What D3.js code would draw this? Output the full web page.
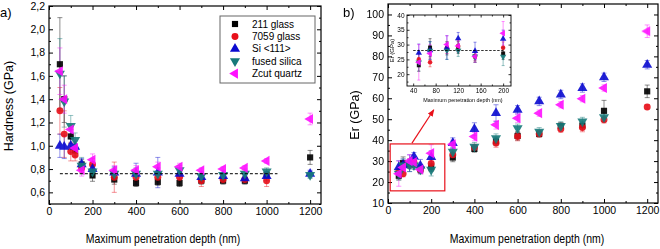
<!DOCTYPE html>
<html>
<head>
<meta charset="utf-8">
<script src="https://cdn.jsdelivr.net/npm/d3@7"></script>
<style>
  body { margin: 0; background: #fff; }
  text { font-family: "Liberation Sans", Arial, sans-serif; fill: #000; }
</style>
</head>
<body>
<svg id="chart" width="660" height="249"></svg>
<script>
// ---- data ----
const depth = [50, 70, 100, 120, 150, 200, 300, 400, 500, 600, 700, 800, 900, 1000, 1200];
const seriesNames = ['211 glass', '7059 glass', 'Si <111>', 'fused silica', 'Zcut quartz'];
const seriesColors = ['#000000', '#e8101a', '#0a0ad0', '#167a7a', '#ff10ff'];

// hardness (GPa)
const hard211    = [1.70, 1.40, 1.08, 0.96, 0.84, 0.745, 0.71, 0.68, 0.69, 0.68, 0.70, 0.70, 0.70, 0.75, 0.90];
const hard7059   = [1.30, 1.10, 0.95, 0.92, 0.81, 0.84, 0.73, 0.73, 0.73, 0.73, 0.70, 0.71, 0.71, 0.70, null];
const hardSi     = [1.00, 0.99, 1.00, 0.99, 0.84, 0.80, 0.77, 0.76, 0.77, 0.76, 0.73, 0.74, 0.72, 0.74, 0.76];
const hardSilica = [1.62, 1.38, 1.17, 1.05, 0.83, 0.78, 0.76, 0.76, 0.76, 0.79, 0.74, 0.75, 0.76, 0.78, 0.75];
const hardQuartz = [1.64, 1.40, 1.14, 0.98, 0.79, 0.88, 0.79, 0.79, 0.82, 0.82, 0.79, 0.80, 0.81, 0.87, 1.23];

const hardErr211    = [0.40, 0.20, 0.06, 0.05, 0.04, 0.05, 0.04, 0.03, 0.03, 0.03, 0.03, 0.03, 0.03, 0.03, 0.06];
const hardErr7059   = [0.20, 0.20, 0.08, 0.05, 0.04, 0.05, 0.13, 0.04, 0.04, 0.04, 0.05, 0.03, 0.03, 0.05, null];
const hardErrSi     = [0.10, 0.10, 0.06, 0.05, 0.05, 0.04, 0.05, 0.09, 0.13, 0.04, 0.03, 0.03, 0.04, 0.04, 0.03];
const hardErrSilica = [0.30, 0.22, 0.09, 0.06, 0.07, 0.05, 0.05, 0.05, 0.05, 0.04, 0.04, 0.04, 0.04, 0.03, 0.03];
const hardErrQuartz = [0.20, 0.12, 0.04, 0.04, 0.05, 0.05, 0.04, 0.04, 0.04, 0.03, 0.02, 0.02, 0.02, 0.02, 0.05];

// reduced modulus Er (GPa)
const er211    = [23, 29, 28.5, 29, 26, 27, 31.7, 35.8, 39.4, 42, 43, 46.8, 47, 54, 63.3];
const er7059   = [25, 24, 29, 29.5, 26, 28.9, 33, 36.5, 38.6, 41.7, 43, 45.3, 46, 49.7, 55.8];
const erSi     = [27.2, 28, 29, 32.1, 27.8, 31.9, 38.6, 45.3, 52.9, 54.5, 58.5, 61.8, 64.9, 70, 76];
const erSilica = [24, 28, 28, 28, 26, 25.9, 34.5, 36.9, 41, 45.7, 44, 46.8, 48.9, 51, null];
const erQuartz = [24, 27, 30, 29.5, 26, 33.8, 38, 41.7, 47.3, 50.5, 52.9, 56.9, 59.8, 64.9, 92];

const erErr211    = [2, 3, 2, 2, 2, 2, 2, 1.5, 2, 2, 1.5, 1.5, 2, 5, 3];
const erErr7059   = [2, 1.5, 2, 2, 1.5, 2, 2, 1.5, 2, 2, 1.5, 1.5, 2, 1.5, 1];
const erErrSi     = [3, 3, 4, 2, 3, 3, 2.5, 3, 4, 2, 2, 2, 2, 2, 2];
const erErrSilica = [3, 3, 3, 2, 2, 3, 2, 2, 2, 2, 2, 2, 2, 2, null];
const erErrQuartz = [6, 3, 3, 2, 2, 4, 2, 2, 2, 2, 1.5, 1.5, 1.5, 1.5, 3];

const hardSeries = [hard211, hard7059, hardSi, hardSilica, hardQuartz];
const hardErrors = [hardErr211, hardErr7059, hardErrSi, hardErrSilica, hardErrQuartz];
const erSeries = [er211, er7059, erSi, erSilica, erQuartz];
const erErrors = [erErr211, erErr7059, erErrSi, erErrSilica, erErrQuartz];

const depthTicks = [0, 200, 400, 600, 800, 1000, 1200];
const hardTicks = [0.6, 0.8, 1.0, 1.2, 1.4, 1.6, 1.8, 2.0, 2.2];
const erTicks = [10, 20, 30, 40, 50, 60, 70, 80, 90, 100];
const insetDepthTicks = [40, 80, 120, 160, 200];
const insetErTicks = [20, 25, 30, 35, 40];

const hardReference = 0.76;
const erReference = 28;

// ---- helpers ----
const svg = d3.select('#chart');

// marker shapes: square, circle, up, down, left triangle
const shapeOf = [
    {type: d3.symbolSquare, rot: 0},
    {type: d3.symbolCircle, rot: 0},
    {type: d3.symbolTriangle, rot: 0},
    {type: d3.symbolTriangle, rot: 180},
    {type: d3.symbolTriangle, rot: -90}
];

function drawSymbol(g, i, x, y, size) {
    g.append('path')
        .attr('d', d3.symbol().type(shapeOf[i].type).size(size)())
        .attr('transform', `translate(${x},${y}) rotate(${shapeOf[i].rot})`)
        .attr('fill', seriesColors[i]);
}

function frameAxes(g, x, y, w, h, o) {
    // major / minor ticks pointing inward on all four sides
    const fs = o.fontSize;
    g.append('g').attr('transform', `translate(0,${h})`)
        .call(d3.axisBottom(x).tickValues(o.xTicks).tickSize(-o.major).tickPadding(o.pad).tickFormat(o.xFormat || d3.format('d')));
    g.append('g')
        .call(d3.axisLeft(y).tickValues(o.yTicks).tickSize(-o.major).tickPadding(o.pad).tickFormat(o.yFormat || d3.format('d')));
    g.append('g')
        .call(d3.axisTop(x).tickValues(o.xTicks).tickSize(-o.major).tickFormat(''));
    g.append('g').attr('transform', `translate(${w},0)`)
        .call(d3.axisRight(y).tickValues(o.yTicks).tickSize(-o.major).tickFormat(''));
    // minor
    g.append('g').attr('transform', `translate(0,${h})`)
        .call(d3.axisBottom(x).tickValues(o.xMinor).tickSize(-o.minor).tickFormat(''));
    g.append('g')
        .call(d3.axisTop(x).tickValues(o.xMinor).tickSize(-o.minor).tickFormat(''));
    g.append('g')
        .call(d3.axisLeft(y).tickValues(o.yMinor).tickSize(-o.minor).tickFormat(''));
    g.append('g').attr('transform', `translate(${w},0)`)
        .call(d3.axisRight(y).tickValues(o.yMinor).tickSize(-o.minor).tickFormat(''));

    g.selectAll('.domain').remove();
    g.selectAll('.tick line').attr('stroke', '#000').attr('stroke-width', o.tickWidth);
    g.selectAll('.tick text').attr('font-size', fs).attr('fill', '#000')
        .attr('font-family', '"Liberation Sans", Arial, sans-serif');

    g.append('rect')
        .attr('width', w).attr('height', h)
        .attr('fill', 'none').attr('stroke', '#000').attr('stroke-width', o.frameWidth);
}

function drawSeries(g, x, y, values, errors, o) {
    const keep = o.keep || (() => true);
    // error bars
    values.forEach((vals, i) => {
        vals.forEach((v, k) => {
            if (v == null || !keep(depth[k])) return;
            const e = errors[i][k] || 0;
            const px = x(depth[k]);
            const eg = g.append('g')
                .attr('stroke', seriesColors[i]).attr('stroke-opacity', 0.45).attr('stroke-width', 1);
            eg.append('line').attr('x1', px).attr('x2', px).attr('y1', y(v - e)).attr('y2', y(v + e));
            eg.append('line').attr('x1', px - o.cap).attr('x2', px + o.cap).attr('y1', y(v - e)).attr('y2', y(v - e));
            eg.append('line').attr('x1', px - o.cap).attr('x2', px + o.cap).attr('y1', y(v + e)).attr('y2', y(v + e));
        });
    });
    // markers
    values.forEach((vals, i) => {
        const sg = g.append('g').attr('opacity', 0.9);
        vals.forEach((v, k) => {
            if (v == null || !keep(depth[k])) return;
            drawSymbol(sg, i, x(depth[k]), y(v), o.size[i]);
        });
    });
}

const commaFormat = d => d3.format('.1f')(d).replace('.', ',');
const markerSizes = [38, 38, 44, 44, 44];

// ---- panel a) hardness ----
{
    const left = 49, top = 6, w = 272, h = 198;
    const g = svg.append('g').attr('transform', `translate(${left},${top})`);
    const x = d3.scaleLinear().domain([0, 1250]).range([0, w]);
    const y = d3.scaleLinear().domain([0.5, 2.2]).range([h, 0]);

    drawSeries(g, x, y, hardSeries, hardErrors, {cap: 2.5, size: markerSizes});

    g.append('line')
        .attr('x1', x(50)).attr('x2', x(1050))
        .attr('y1', y(hardReference)).attr('y2', y(hardReference))
        .attr('stroke', '#000').attr('stroke-width', 1).attr('stroke-dasharray', '3,2');

    frameAxes(g, x, y, w, h, {
        xTicks: depthTicks, yTicks: hardTicks,
        xMinor: d3.range(100, 1250, 200), yMinor: d3.range(0.5, 2.2, 0.2),
        yFormat: commaFormat, major: 4, minor: 2, pad: 4,
        fontSize: 10.5, tickWidth: 1, frameWidth: 1.2
    });

    // legend
    const lg = g.append('g').attr('transform', `translate(${220 - left},${16 - top})`);
    lg.append('rect').attr('width', 95).attr('height', 67)
        .attr('fill', '#fff').attr('stroke', '#666').attr('stroke-width', 1);
    seriesNames.forEach((name, i) => {
        const ry = 8 + i * 12.4;
        drawSymbol(lg, i, 15, ry, markerSizes[i]);
        lg.append('text').attr('x', 32).attr('y', ry).attr('dy', '0.35em')
            .attr('font-size', 10).text(name);
    });

    svg.append('text').attr('x', 0).attr('y', 17).attr('font-size', 13).text('a)');
    svg.append('text')
        .attr('transform', `translate(13,106) rotate(-90)`)
        .attr('text-anchor', 'middle').attr('font-size', 12.5).text('Hardness (GPa)');
    svg.append('text')
        .attr('transform', `translate(163,243) scale(0.84,1)`)
        .attr('text-anchor', 'middle').attr('font-size', 12.5).text('Maximum penetration depth (nm)');
}

// ---- panel b) reduced modulus ----
{
    const left = 388, top = 4, w = 270, h = 199;
    const g = svg.append('g').attr('transform', `translate(${left},${top})`);
    const x = d3.scaleLinear().domain([0, 1250]).range([0, w]);
    const y = d3.scaleLinear().domain([10, 105]).range([h, 0]);

    drawSeries(g, x, y, erSeries, erErrors, {cap: 2.5, size: markerSizes});

    frameAxes(g, x, y, w, h, {
        xTicks: depthTicks, yTicks: erTicks,
        xMinor: d3.range(100, 1250, 200), yMinor: d3.range(15, 105, 10),
        major: 4, minor: 2, pad: 4,
        fontSize: 10.5, tickWidth: 1, frameWidth: 1.2
    });

    // zoom box and arrow
    g.append('rect')
        .attr('x', x(10)).attr('y', y(38.2))
        .attr('width', x(263) - x(10)).attr('height', y(15.8) - y(38.2))
        .attr('fill', 'none').attr('stroke', '#e8101a').attr('stroke-width', 1.2);
    svg.append('defs').append('marker')
        .attr('id', 'arrow').attr('viewBox', '0 0 10 10').attr('refX', 9).attr('refY', 5)
        .attr('markerWidth', 6).attr('markerHeight', 6).attr('orient', 'auto')
        .append('path').attr('d', 'M0,1 L10,5 L0,9 Z').attr('fill', '#e8101a');
    g.append('line')
        .attr('x1', x(111)).attr('y1', y(38.6))
        .attr('x2', x(212)).attr('y2', y(54.5))
        .attr('stroke', '#e8101a').attr('stroke-width', 1.2).attr('marker-end', 'url(#arrow)');

    // inset
    const il = 407, it = 15, iw = 104, ih = 71;
    const ig = svg.append('g').attr('transform', `translate(${il},${it})`);
    ig.append('rect').attr('width', iw).attr('height', ih).attr('fill', '#fff');
    const ix = d3.scaleLinear().domain([29, 214]).range([0, iw]);
    const iy = d3.scaleLinear().domain([16, 40]).range([ih, 0]);

    drawSeries(ig, ix, iy, erSeries, erErrors, {cap: 1.5, size: [16, 16, 18, 18, 18], keep: d => d <= 200});

    ig.append('line')
        .attr('x1', ix(40)).attr('x2', ix(200))
        .attr('y1', iy(erReference)).attr('y2', iy(erReference))
        .attr('stroke', '#000').attr('stroke-width', 0.8).attr('stroke-dasharray', '2.5,1.5');

    frameAxes(ig, ix, iy, iw, ih, {
        xTicks: insetDepthTicks, yTicks: insetErTicks,
        xMinor: d3.range(60, 214, 40), yMinor: d3.range(17.5, 40, 5),
        major: 2.5, minor: 1.5, pad: 2.5,
        fontSize: 6.5, tickWidth: 0.8, frameWidth: 0.9
    });

    ig.append('text')
        .attr('transform', `translate(-13,${ih / 2}) rotate(-90)`)
        .attr('text-anchor', 'middle').attr('font-size', 6).text('Er (GPa)');
    ig.append('text')
        .attr('transform', `translate(${iw / 2 + 4},${ih + 16}) scale(0.9,1)`)
        .attr('text-anchor', 'middle').attr('font-size', 6).text('Maximum penetration depth (nm)');

    svg.append('text').attr('x', 343).attr('y', 17).attr('font-size', 13).text('b)');
    svg.append('text')
        .attr('transform', `translate(359,115) rotate(-90)`)
        .attr('text-anchor', 'middle').attr('font-size', 12.5).text('Er (GPa)');
    svg.append('text')
        .attr('transform', `translate(527,243) scale(0.84,1)`)
        .attr('text-anchor', 'middle').attr('font-size', 12.5).text('Maximum penetration depth (nm)');
}
</script>
</body>
</html>
